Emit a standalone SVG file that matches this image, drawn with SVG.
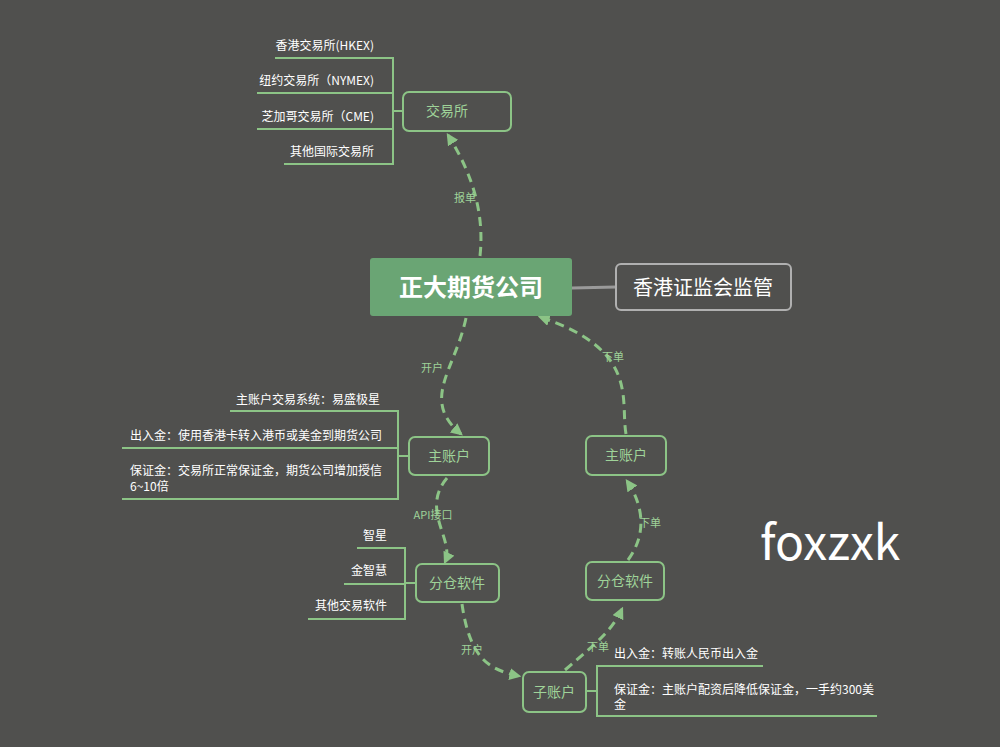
<svg xmlns="http://www.w3.org/2000/svg" width="1000" height="747" viewBox="0 0 1000 747">
<defs>
<style>
text{font-family:"Noto Sans CJK SC","Liberation Sans",sans-serif}
.box{fill:#50504e;stroke:#8cc486;stroke-width:2}
.nt{fill:#9fd399;font-size:14px;text-anchor:middle}
.lt{fill:#ffffff;font-size:12px}
.br{stroke:#8cc486;stroke-width:2;fill:none}
.dash{stroke:#8cc486;stroke-width:3;fill:none;stroke-dasharray:9 6;marker-end:url(#ah)}
.cl{fill:#9fd399;font-size:11px;text-anchor:middle}
</style>
<marker id="ah" viewBox="0 0 10 10" refX="8" refY="5" markerWidth="4" markerHeight="4" orient="auto"><path d="M0,0L10,5L0,10z" fill="#8cc486"/></marker>
</defs>
<rect width="1000" height="747" fill="#50504e"/>
<g id="connectors">
<path class="dash" d="M480,256 C485,210 470,170 448,135"/>
<path class="dash" d="M466,318 C455,370 420,400 461,434"/>
<path class="dash" d="M447,478 C420,510 455,540 445,562"/>
<path class="dash" d="M462,604 C470,660 490,670 519,676"/>
<path class="dash" d="M565,670 C600,640 612,630 622,609"/>
<path class="dash" d="M628,560 C650,530 640,500 627,481"/>
<path class="dash" d="M626,434 C620,400 640,350 540,317"/>
<path d="M572,288 L616,287" stroke="#9a9a9a" stroke-width="3"/>
</g>
<g id="labels">
<text class="cl" x="465" y="202">报单</text>
<text class="cl" x="432" y="372">开户</text>
<text class="cl" x="433" y="519">API接口</text>
<text class="cl" x="472" y="654">开户</text>
<text class="cl" x="598" y="651">下单</text>
<text class="cl" x="650" y="527">下单</text>
<text class="cl" x="613" y="361">下单</text>
</g>
<g id="n-exchange">
<rect class="box" x="403" y="92" width="108" height="39" rx="6"/>
<text class="nt" x="447" y="116">交易所</text>
<path class="br" d="M275,58H393V164H284M257,93H393M257,129H393M393,111H403"/>
<text class="lt" x="374" y="50" text-anchor="end">香港交易所(HKEX)</text>
<text class="lt" x="374" y="85" text-anchor="end">纽约交易所（NYMEX)</text>
<text class="lt" x="374" y="121" text-anchor="end">芝加哥交易所（CME)</text>
<text class="lt" x="374" y="156" text-anchor="end">其他国际交易所</text>
</g>
<g id="n-center">
<rect x="370" y="258" width="202" height="58" rx="3" fill="#6aa574"/>
<text x="471" y="296" fill="#fff" font-size="24" font-weight="bold" text-anchor="middle">正大期货公司</text>
</g>
<g id="n-regulator">
<rect x="616" y="264" width="175" height="46" rx="5" fill="#50504e" stroke="#b0b0b0" stroke-width="2"/>
<text x="703" y="295" fill="#fff" font-size="20" text-anchor="middle">香港证监会监管</text>
</g>
<g id="n-main-left">
<rect class="box" x="409" y="437" width="80" height="38" rx="6"/>
<text class="nt" x="449" y="461">主账户</text>
<path class="br" d="M230,411H398V499H122M122,448H398M398,456H409"/>
<text class="lt" x="236" y="404">主账户交易系统：易盛极星</text>
<text class="lt" x="130" y="440">出入金：使用香港卡转入港币或美金到期货公司</text>
<text class="lt" x="130" y="475">保证金：交易所正常保证金，期货公司增加授信</text>
<text class="lt" x="130" y="491">6~10倍</text>
</g>
<g id="n-soft-left">
<rect class="box" x="416" y="564" width="83" height="38" rx="6"/>
<text class="nt" x="457" y="588">分仓软件</text>
<path class="br" d="M357,548H405V619H308M344,584H405M405,583H416"/>
<text class="lt" x="387" y="540" text-anchor="end">智星</text>
<text class="lt" x="387" y="575" text-anchor="end">金智慧</text>
<text class="lt" x="387" y="610" text-anchor="end">其他交易软件</text>
</g>
<g id="n-sub">
<rect class="box" x="523" y="672" width="63" height="40" rx="6"/>
<text class="nt" x="554" y="697">子账户</text>
<path class="br" d="M763,666H597V716H877M586,691H597"/>
<text class="lt" x="614" y="658">出入金：转账人民币出入金</text>
<text class="lt" x="614" y="694">保证金：主账户配资后降低保证金，一手约300美</text>
<text class="lt" x="614" y="709">金</text>
</g>
<g id="n-soft-right">
<rect class="box" x="586" y="562" width="78" height="38" rx="6"/>
<text class="nt" x="625" y="586">分仓软件</text>
</g>
<g id="n-main-right">
<rect class="box" x="586" y="436" width="80" height="39" rx="6"/>
<text class="nt" x="626" y="460">主账户</text>
</g>
<text x="760" y="560" fill="#fff" font-size="48" font-family="Liberation Sans,sans-serif">foxzxk</text>
</svg>
